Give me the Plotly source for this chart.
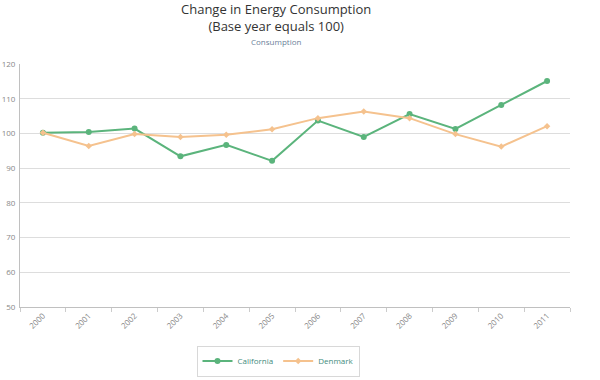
import plotly.graph_objects as go

years = ["2000", "2001", "2002", "2003", "2004", "2005", "2006", "2007", "2008", "2009", "2010", "2011"]
california = [100.2, 100.4, 101.4, 93.4, 96.7, 92.1, 103.7, 99.0, 105.6, 101.3, 108.2, 115.1]
denmark = [100.2, 96.4, 99.8, 99.0, 99.6, 101.2, 104.4, 106.3, 104.4, 99.8, 96.2, 102.1]

green = "#5bb47c"
orange = "#f5c28e"

fig = go.Figure()
fig.add_trace(go.Scatter(x=years, y=california, name="California", mode="lines+markers",
                         line=dict(color=green, width=2), marker=dict(size=6, color=green, symbol="circle")))
fig.add_trace(go.Scatter(x=years, y=denmark, name="Denmark", mode="lines+markers",
                         line=dict(color=orange, width=2), marker=dict(size=5, color=orange, symbol="diamond")))

W, H = 600, 380
L, T, R, B = 20, 64, 30, 73
pw = W - L - R
ph = H - T - B

def px(xp):
    return (xp - L) / pw

def py(yp):
    return (H - B - yp) / ph

fig.update_layout(
    width=W, height=H,
    margin=dict(l=L, r=R, t=T, b=B, autoexpand=False),
    paper_bgcolor="white", plot_bgcolor="white",
    font=dict(family="Open Sans, DejaVu Sans, sans-serif", color="#666666"),
    showlegend=True,
    legend=dict(orientation="h", x=px(278), xanchor="center", y=py(361), yanchor="middle",
                bordercolor="#d8d8d8", borderwidth=1, font=dict(size=8, color="#3f8c7c"),
                itemwidth=30, tracegroupgap=0),
    xaxis=dict(type="category", tickson="boundaries", ticks="outside", ticklen=4, tickcolor="#cccccc",
               showline=True, linecolor="#c0c0c0", linewidth=1, showgrid=False, automargin=False,
               tickangle=-45, tickfont=dict(size=8, color="#888888"), range=[-0.5, 11.5]),
    yaxis=dict(range=[50, 120], dtick=10, showgrid=True, gridcolor="#dddddd", gridwidth=1,
               showline=True, linecolor="#c0c0c0", linewidth=1, zeroline=False, automargin=False,
               tickfont=dict(size=8, color="#888888"), ticks="", ticklabelstandoff=2),
    annotations=[
        dict(text="Change in Energy Consumption<br>(Base year equals 100)", x=px(276), y=py(17.5),
             xref="paper", yref="paper", xanchor="center", yanchor="middle", showarrow=False,
             align="center", font=dict(size=13, color="#333333")),
        dict(text="Consumption", x=px(276), y=py(42),
             xref="paper", yref="paper", xanchor="center", yanchor="middle", showarrow=False,
             font=dict(size=8, color="#6b7f9a")),
    ],
)

fig.write_html("out.html", config={"displayModeBar": False},
               post_script="document.body.style.margin='0';")
